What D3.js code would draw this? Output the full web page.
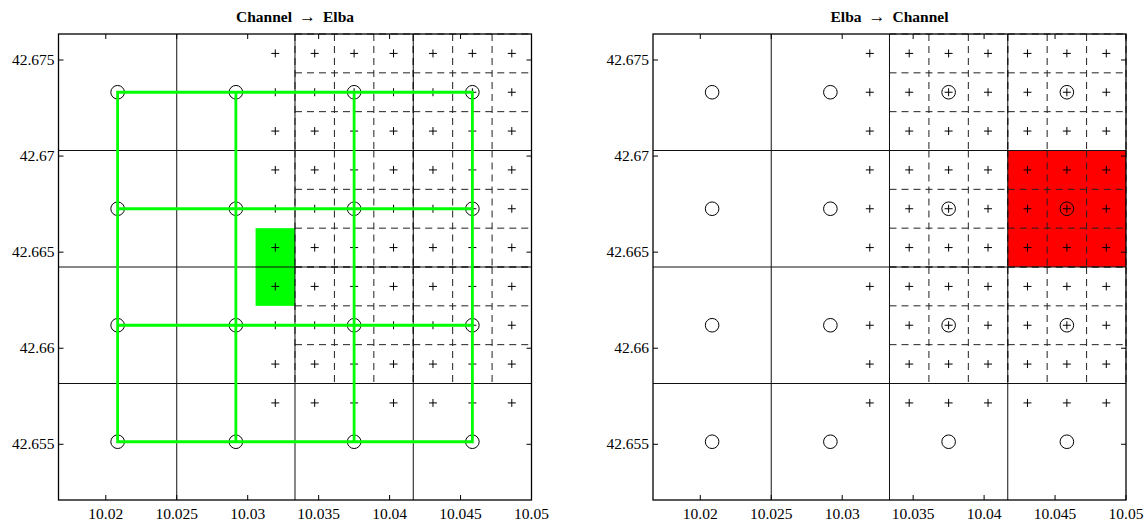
<!DOCTYPE html>
<html>
<head>
<meta charset="utf-8">
<script src="https://cdn.jsdelivr.net/npm/d3@7"></script>
<style>
  html, body { margin: 0; padding: 0; background: #fff; }
  svg { display: block; }
</style>
</head>
<body>
<svg id="chart" width="1145" height="525"></svg>
<script>
// ---- grid geometry (degrees) ----
const lonDomain = [10.016667, 10.05];
const latDomain = [42.652101, 42.676353];

// coarse cell edges
const coarseLonEdges = [10.016667, 10.025, 10.033333, 10.041667, 10.05];
const coarseLatEdges = [42.652101, 42.658164, 42.664227, 42.670290, 42.676353];

// coarse cell centres (circles)
const coarseLon = [10.020833, 10.029167, 10.0375, 10.045833];
const coarseLat = [42.655133, 42.661196, 42.667259, 42.673322];

// refined cells: fine edges inside each refined coarse block
const refinedBlocksLon = [
  [10.033333, 10.036111, 10.038889, 10.041667],
  [10.041667, 10.044444, 10.047222, 10.05]
];
const refinedBlocksLat = [
  [42.658164, 42.660185, 42.662206, 42.664227],
  [42.664227, 42.666248, 42.668269, 42.670290],
  [42.670290, 42.672311, 42.674332, 42.676353]
];

// fine cell centres (plus markers)
const fineLon = [10.031944, 10.034722, 10.0375, 10.040278, 10.043056, 10.045833, 10.048611];
const fineLat = [42.675343, 42.673322, 42.671301, 42.669280, 42.667259,
                 42.665238, 42.663217, 42.661196, 42.659175, 42.657154];

// highlighted source areas
const greenCell = { lon: [10.030556, 10.033333], lat: [42.662206, 42.666248] };
const redCell   = { lon: [10.041667, 10.05],     lat: [42.664227, 42.670290] };

// axis ticks
const lonTicks = [10.02, 10.025, 10.03, 10.035, 10.04, 10.045, 10.05];
const latTicks = [42.655, 42.66, 42.665, 42.67, 42.675];
const lonTickLabels = ["10.02", "10.025", "10.03", "10.035", "10.04", "10.045", "10.05"];
const latTickLabels = ["42.655", "42.66", "42.665", "42.67", "42.675"];

const titleParts = [["Channel", "Elba"], ["Elba", "Channel"]];

const SERIF = "'Liberation Serif', 'Times New Roman', serif";

// ---- layout ----
const panels = [
  { x0: 58.5, x1: 531.5 },
  { x0: 653,  x1: 1126 }
];
const yTop = 34, yBottom = 500;

const svg = d3.select("#chart");

panels.forEach((p, idx) => {
  const x = d3.scaleLinear().domain(lonDomain).range([p.x0, p.x1]);
  const y = d3.scaleLinear().domain(latDomain).range([yBottom, yTop]);
  const g = svg.append("g");

  // filled highlight cell
  const hl = idx === 0 ? { c: greenCell, fill: "#00ff00" } : { c: redCell, fill: "#ff0000" };
  g.append("rect")
    .attr("x", x(hl.c.lon[0]))
    .attr("y", y(hl.c.lat[1]))
    .attr("width", x(hl.c.lon[1]) - x(hl.c.lon[0]))
    .attr("height", y(hl.c.lat[0]) - y(hl.c.lat[1]))
    .attr("fill", hl.fill);

  // dashed refined grid
  const dashG = g.append("g")
    .attr("stroke", "#222")
    .attr("stroke-width", 1)
    .attr("stroke-dasharray", "7,5")
    .attr("fill", "none");
  refinedBlocksLon.forEach(bl => {
    refinedBlocksLat.forEach(bt => {
      bl.forEach(lon => {
        dashG.append("line")
          .attr("x1", x(lon)).attr("x2", x(lon))
          .attr("y1", y(bt[3])).attr("y2", y(bt[0]));
      });
      bt.forEach(lat => {
        dashG.append("line")
          .attr("x1", x(bl[0])).attr("x2", x(bl[3]))
          .attr("y1", y(lat)).attr("y2", y(lat));
      });
    });
  });

  // solid coarse grid
  const solidG = g.append("g").attr("stroke", "#111").attr("stroke-width", 1);
  coarseLonEdges.slice(1, -1).forEach(lon => {
    solidG.append("line")
      .attr("x1", x(lon)).attr("x2", x(lon))
      .attr("y1", yTop).attr("y2", yBottom);
  });
  coarseLatEdges.slice(1, -1).forEach(lat => {
    solidG.append("line")
      .attr("x1", p.x0).attr("x2", p.x1)
      .attr("y1", y(lat)).attr("y2", y(lat));
  });

  // plus markers at fine cell centres
  const plusPts = [];
  fineLat.forEach(la => fineLon.forEach(lo => plusPts.push([lo, la])));
  const ps = 4;
  g.append("path")
    .attr("d", plusPts.map(([lo, la]) => {
      const cx = x(lo), cy = y(la);
      return `M${cx - ps},${cy}H${cx + ps}M${cx},${cy - ps}V${cy + ps}`;
    }).join(""))
    .attr("stroke", "#000")
    .attr("stroke-width", 1)
    .attr("fill", "none");

  // circles at coarse cell centres
  const circPts = [];
  coarseLat.forEach(la => coarseLon.forEach(lo => circPts.push([lo, la])));
  g.selectAll("circle.c")
    .data(circPts)
    .join("circle")
    .attr("class", "c")
    .attr("cx", d => x(d[0]))
    .attr("cy", d => y(d[1]))
    .attr("r", 6.8)
    .attr("fill", "none")
    .attr("stroke", "#000")
    .attr("stroke-width", 1);

  if (idx === 0) {
    // connection network between coarse centres
    const segs = [];
    coarseLat.forEach(la => segs.push([[coarseLon[0], la], [coarseLon[coarseLon.length - 1], la]]));
    coarseLon.forEach(lo => segs.push([[lo, coarseLat[0]], [lo, coarseLat[coarseLat.length - 1]]]));
    g.append("path")
      .attr("d", segs.map(s => `M${x(s[0][0])},${y(s[0][1])}L${x(s[1][0])},${y(s[1][1])}`).join(""))
      .attr("stroke", "#00ff00")
      .attr("stroke-width", 2.8)
      .attr("stroke-linecap", "square")
      .attr("fill", "none");
  }

  // axes box
  g.append("rect")
    .attr("x", p.x0).attr("y", yTop)
    .attr("width", p.x1 - p.x0).attr("height", yBottom - yTop)
    .attr("fill", "none")
    .attr("stroke", "#000")
    .attr("stroke-width", 1.3);

  // inward ticks on all sides
  const tl = 5;
  const tickG = g.append("g").attr("stroke", "#000").attr("stroke-width", 1);
  lonTicks.forEach(v => {
    tickG.append("line").attr("x1", x(v)).attr("x2", x(v)).attr("y1", yBottom).attr("y2", yBottom - tl);
    tickG.append("line").attr("x1", x(v)).attr("x2", x(v)).attr("y1", yTop).attr("y2", yTop + tl);
  });
  latTicks.forEach(v => {
    tickG.append("line").attr("x1", p.x0).attr("x2", p.x0 + tl).attr("y1", y(v)).attr("y2", y(v));
    tickG.append("line").attr("x1", p.x1).attr("x2", p.x1 - tl).attr("y1", y(v)).attr("y2", y(v));
  });

  // tick labels
  g.selectAll("text.xl")
    .data(lonTicks)
    .join("text")
    .attr("class", "xl")
    .attr("x", d => x(d))
    .attr("y", 519)
    .attr("text-anchor", "middle")
    .attr("font-family", SERIF)
    .attr("font-size", 15.5)
    .attr("fill", "#000")
    .text((d, i) => lonTickLabels[i]);
  g.selectAll("text.yl")
    .data(latTicks)
    .join("text")
    .attr("class", "yl")
    .attr("x", p.x0 - 4)
    .attr("y", d => y(d) + 5)
    .attr("text-anchor", "end")
    .attr("font-family", SERIF)
    .attr("font-size", 15.5)
    .attr("fill", "#000")
    .text((d, i) => latTickLabels[i]);

  // title: "A → B" with a wider math-style arrow
  const t = g.append("text")
    .attr("x", (p.x0 + p.x1) / 2)
    .attr("y", 22)
    .attr("text-anchor", "middle")
    .attr("font-family", SERIF)
    .attr("font-size", 15.5)
    .attr("font-weight", "bold")
    .attr("fill", "#000");
  t.append("tspan").text(titleParts[idx][0]);
  t.append("tspan").attr("dx", 7).attr("font-weight", "normal").attr("font-size", 17).text("\u2192");
  t.append("tspan").attr("dx", 7).text(titleParts[idx][1]);
});
</script>
</body>
</html>
